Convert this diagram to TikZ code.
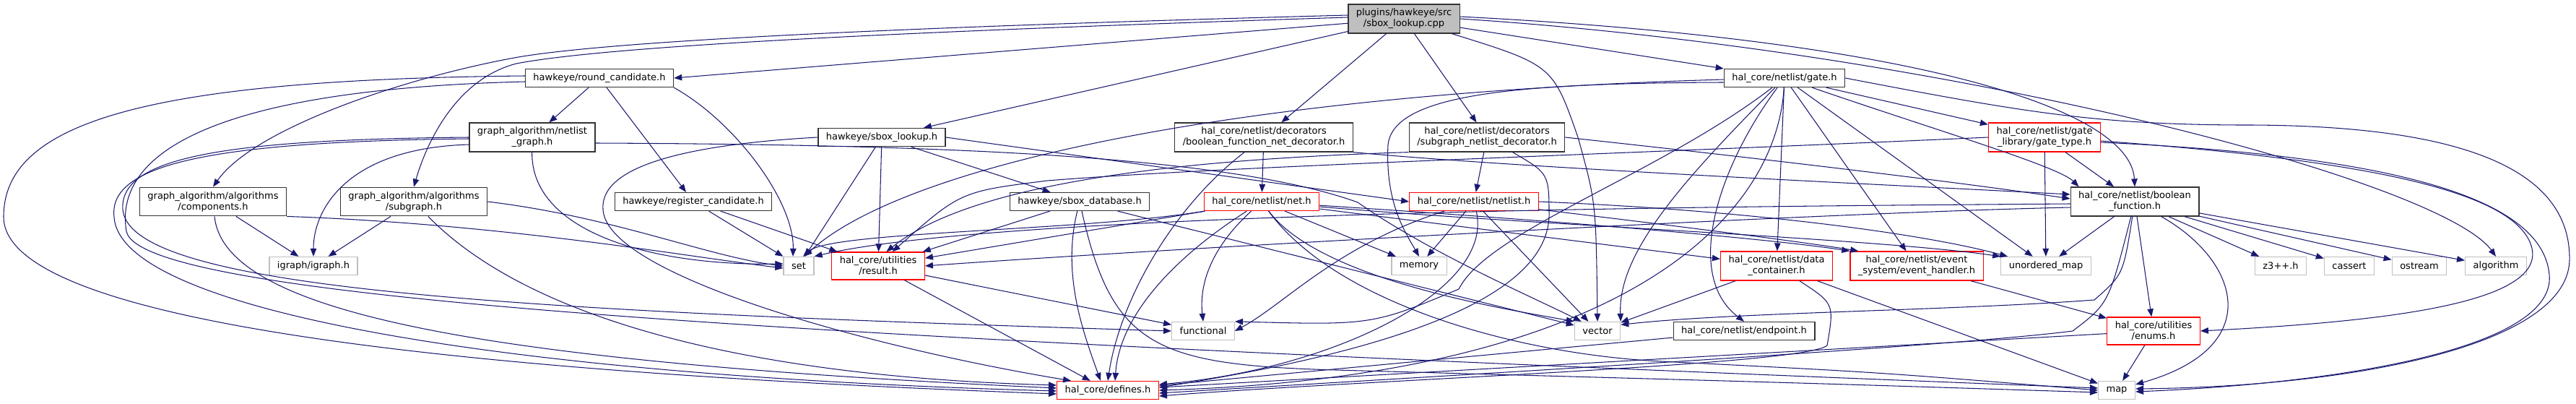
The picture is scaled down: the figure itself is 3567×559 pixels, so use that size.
\documentclass[tikz,border=0pt]{standalone}
\usepackage{fontspec}
\setmainfont{DejaVu Sans}
\usetikzlibrary{arrows.meta}

\definecolor{edgeblue}{HTML}{191970}
\definecolor{docgray}{HTML}{333333}
\definecolor{truncred}{HTML}{FF0000}
\definecolor{extgray}{HTML}{BFBFBF}

\tikzset{
  hfile/.style={draw=docgray, fill=white, line width=1.3pt, align=center,
    inner xsep=11pt, inner ysep=6pt, minimum height=25pt,
    font=\fontsize{13}{15}\selectfont},
  docfile/.style={hfile},
  truncfile/.style={hfile, draw=truncred},
  sysfile/.style={hfile, draw=extgray},
  rootfile/.style={hfile, fill=extgray},
  incl/.style={draw=edgeblue, line width=1.05pt, -{Triangle[length=11pt,width=8.5pt]}},
}

\begin{document}
\begin{tikzpicture}[x=1pt,y=1pt]
    \useasboundingbox (0,0) rectangle (3567,-559);

    % Files, rank by rank
    \node[rootfile] (src) at (1944,-26) {plugins/hawkeye/src\\/sbox\_lookup.cpp};

    \node[docfile] (rc) at (830,-108) {hawkeye/round\_candidate.h};
    \node[docfile] (gate) at (2471,-108) {hal\_core/netlist/gate.h};

    \node[docfile] (ng) at (737,-190) {graph\_algorithm/netlist\\\_graph.h};
    \node[docfile] (slh) at (1221,-190) {hawkeye/sbox\_lookup.h};
    \node[docfile] (bfnd) at (1750,-190) {hal\_core/netlist/decorators\\/boolean\_function\_net\_decorator.h};
    \node[docfile] (snd) at (2059,-190) {hal\_core/netlist/decorators\\/subgraph\_netlist\_decorator.h};
    \node[truncfile] (gt) at (2831,-190) {hal\_core/netlist/gate\\\_library/gate\_type.h};

    \node[docfile] (comp) at (295,-279) {graph\_algorithm/algorithms\\/components.h};
    \node[docfile] (subg) at (573,-279) {graph\_algorithm/algorithms\\/subgraph.h};
    \node[docfile] (regc) at (960,-279) {hawkeye/register\_candidate.h};
    \node[docfile] (sdb) at (1495,-279) {hawkeye/sbox\_database.h};
    \node[truncfile] (net) at (1747,-279) {hal\_core/netlist/net.h};
    \node[truncfile] (nl) at (2041,-279) {hal\_core/netlist/netlist.h};
    \node[docfile] (bf) at (2956,-279) {hal\_core/netlist/boolean\\\_function.h};

    \node[sysfile] (igraph) at (434,-368) {igraph/igraph.h};
    \node[sysfile] (set) at (1106,-368) {set};
    \node[truncfile] (res) at (1216,-368) {hal\_core/utilities\\/result.h};
    \node[sysfile] (mem) at (1965,-368) {memory};
    \node[truncfile] (dc) at (2460,-368) {hal\_core/netlist/data\\\_container.h};
    \node[truncfile] (eh) at (2654,-368) {hal\_core/netlist/event\\\_system/event\_handler.h};
    \node[sysfile] (um) at (2833,-368) {unordered\_map};
    \node[sysfile] (z3) at (3158,-368) {z3++.h};
    \node[sysfile] (cassert) at (3253,-368) {cassert};
    \node[sysfile] (ostream) at (3350,-368) {ostream};
    \node[sysfile] (alg) at (3456,-368) {algorithm};

    \node[sysfile] (func) at (1666,-458) {functional};
    \node[sysfile] (vec) at (2212,-458) {vector};
    \node[docfile] (ep) at (2415,-458) {hal\_core/netlist/endpoint.h};
    \node[truncfile] (enums) at (2982,-458) {hal\_core/utilities\\/enums.h};

    \node[truncfile] (def) at (1534,-540) {hal\_core/defines.h};
    \node[sysfile] (map) at (2931,-540) {map};

    % sbox_lookup.cpp
    \draw[incl] (src) -- (rc.east);
    \draw[incl] ([yshift=5pt]src.west) .. controls (1300,-36) and (850,-55) .. (712,-80) .. controls (550,-110) and (350,-180) .. (comp.north);
    \draw[incl] ([yshift=2pt]src.west) .. controls (1300,-42) and (850,-62) .. (715,-88) .. controls (630,-110) and (590,-200) .. (subg.north);
    \draw[incl] (src) -- (slh);
    \draw[incl] (src) -- (bfnd);
    \draw[incl] (src) -- (snd);
    \draw[incl] (src) -- (gate);
    \draw[incl] ([yshift=3pt]src.east) .. controls (2650,-55) and (2950,-150) .. (bf.north);
    \draw[incl] (src.east) .. controls (2700,-70) and (3380,-250) .. (alg.north);
    \draw[incl] (src) .. controls (2150,-90) .. (2185,-190) .. controls (2210,-280) .. (vec.north);

    % round_candidate.h
    \draw[incl] (rc) -- (ng);
    \draw[incl] (rc) -- (regc);
    \draw[incl] (rc.south east) .. controls (1020,-170) and (1100,-280) .. ([xshift=-8pt]set.north);
    \draw[incl] ([yshift=3pt]rc.west) .. controls (200,-110) and (5,-170) .. (5,-300) .. controls (5,-430) and (500,-510) .. ([yshift=-5pt]def.west);
    \draw[incl] ([yshift=-5pt]rc.west) .. controls (250,-125) and (160,-230) .. (175,-320) .. controls (195,-420) and (1200,-470) .. ([yshift=3pt]map.west);

    % netlist_graph.h
    \draw[incl] ([yshift=-10pt]ng.west) .. controls (480,-205) and (434,-290) .. (igraph);
    \draw[incl] (ng) .. controls (735,-320) and (900,-368) .. ([yshift=3pt]set.west);
    \draw[incl] (ng.west) .. controls (300,-193) and (165,-220) .. (170,-290) .. controls (180,-400) and (700,-430) .. (func.west);
    \draw[incl] ([yshift=-2pt]ng.west) .. controls (280,-196) and (150,-230) .. (158,-300) .. controls (165,-430) and (700,-520) .. ([yshift=-1pt]def.west);
    \draw[incl] ([yshift=-8pt]ng.east) .. controls (1300,-200) and (1700,-215) .. (1880,-280) .. controls (1980,-350) and (2120,-410) .. ([xshift=10pt]vec.north west);

    % components.h and subgraph.h
    \draw[incl] (comp) -- (igraph);
    \draw[incl] (comp.south east) .. controls (700,-310) and (950,-355) .. ([yshift=-3pt]set.west);
    \draw[incl] (comp) .. controls (310,-430) and (650,-500) .. ([yshift=3pt]def.west);
    \draw[incl] (subg) -- (igraph);
    \draw[incl] (subg.east) .. controls (850,-300) and (980,-355) .. (set.west);
    \draw[incl] (subg) .. controls (720,-430) and (1000,-520) .. ([yshift=7pt]def.west);

    % register_candidate.h
    \draw[incl] (regc) -- (set);
    \draw[incl] (regc) -- (res);

    % sbox_lookup.h
    \draw[incl] (slh) -- (set);
    \draw[incl] (slh) -- (res);
    \draw[incl] (slh) -- (sdb);
    \draw[incl] (slh.east) -- (nl.west);
    \draw[incl] (slh.west) .. controls (950,-200) and (830,-230) .. (835,-290) .. controls (840,-380) and (1200,-480) .. ([xshift=20pt]def.north west);

    % sbox_database.h
    \draw[incl] (sdb) -- (res);
    \draw[incl] (sdb) .. controls (1470,-380) and (1500,-460) .. ([xshift=-10pt]def.north);
    \draw[incl] (sdb) -- (vec);
    \draw[incl] (sdb) .. controls (1540,-480) and (1600,-505) .. (1850,-512) .. controls (2500,-530) .. ([yshift=-3pt]map.west);

    % net.h
    \draw[incl] (net) .. controls (1500,-320) and (1150,-320) .. ([xshift=6pt]set.north);
    \draw[incl] (net) -- (res);
    \draw[incl] (net) -- (mem);
    \draw[incl] (net) .. controls (1680,-340) and (1660,-390) .. (func.north);
    \draw[incl] (net) .. controls (1620,-360) and (1550,-440) .. ([xshift=10pt]def.north);
    \draw[incl] (net) .. controls (1830,-390) and (2100,-430) .. (vec.north west);
    \draw[incl] (net) .. controls (1850,-420) and (2100,-490) .. (2300,-500) .. controls (2600,-515) .. (map.west);
    \draw[incl] (net) -- (dc);
    \draw[incl] (net) .. controls (2150,-305) and (2450,-330) .. (eh.north west);
    \draw[incl] (net) .. controls (2100,-310) and (2600,-330) .. (um.north west);

    % decorators
    \draw[incl] (bfnd) -- (net);
    \draw[incl] (bfnd) .. controls (1620,-290) and (1550,-420) .. (def.north);
    \draw[incl] (bfnd.south east) .. controls (2100,-232) and (2600,-255) .. ([yshift=10pt]bf.west);
    \draw[incl] (snd) -- (nl);
    \draw[incl] (snd.east) .. controls (2400,-215) and (2700,-250) .. ([yshift=4pt]bf.west);
    \draw[incl] (snd) .. controls (2145,-240) .. (2145,-300) .. controls (2140,-420) and (1900,-490) .. ([yshift=4pt]def.east);
    \draw[incl] (snd.south west) .. controls (1650,-220) and (1350,-250) .. (res.60);

    % netlist.h
    \draw[incl] (nl) -- (mem);
    \draw[incl] (nl) .. controls (1850,-340) and (1780,-420) .. (func.east);
    \draw[incl] (nl) .. controls (2070,-400) and (1850,-510) .. ([yshift=8pt]def.east);
    \draw[incl] (nl) -- (vec);
    \draw[incl] (nl) .. controls (2300,-310) and (2500,-335) .. ([xshift=12pt]eh.north west);
    \draw[incl] (nl.east) .. controls (2400,-290) and (2650,-320) .. ([xshift=10pt]um.north west);

    % gate.h
    \draw[incl] ([yshift=-2pt]gate.west) .. controls (1700,-130) and (1250,-230) .. (set.60);
    \draw[incl] ([yshift=-6pt]gate.west) .. controls (2100,-115) and (1930,-130) .. (1922,-200) .. controls (1918,-280) and (1945,-320) .. (mem.north);
    \draw[incl] (gate) -- (gt);
    \draw[incl] (gate) .. controls (2680,-180) and (2850,-230) .. ([xshift=12pt]bf.north west);
    \draw[incl] (gate) -- (um);
    \draw[incl] (gate) -- (dc);
    \draw[incl] (gate) -- (eh);
    \draw[incl] (gate) .. controls (2380,-230) and (2330,-380) .. (ep.north);
    \draw[incl] (gate) .. controls (2330,-250) and (2240,-350) .. (vec.north east);
    \draw[incl] (gate) .. controls (2300,-240) and (2060,-320) .. (2020,-400) .. controls (1900,-450) .. (func.north east);
    \draw[incl] (gate) .. controls (2460,-300) and (2250,-520) .. (def.east);
    \draw[incl] (gate.east) .. controls (2800,-155) and (2900,-172) .. (3100,-173) .. controls (3400,-172) and (3560,-230) .. (3558,-360) .. controls (3555,-480) and (3250,-535) .. ([yshift=2pt]map.east);

    % gate_type.h
    \draw[incl] (gt) -- (bf);
    \draw[incl] (gt) -- (um);
    \draw[incl] (gt.west) .. controls (2200,-215) and (1700,-230) .. (1450,-250) .. controls (1330,-265) .. (res.45);
    \draw[incl] ([yshift=-5pt]gt.east) .. controls (3250,-220) and (3480,-260) .. (3505,-340) .. controls (3530,-420) and (3300,-445) .. (enums.east);
    \draw[incl] ([yshift=-7pt]gt.east) .. controls (3300,-215) and (3520,-270) .. (3530,-380) .. controls (3540,-480) and (3250,-530) .. ([yshift=-2pt]map.east);

    % boolean_function.h
    \draw[incl] ([yshift=-3pt]bf.west) .. controls (2500,-285) and (1400,-290) .. (set.north east);
    \draw[incl] ([yshift=-8pt]bf.west) .. controls (2500,-295) and (1600,-345) .. (res.east);
    \draw[incl] (bf) -- (um);
    \foreach \hdr in {z3,cassert,ostream,alg} {
        \draw[incl] (bf) -- (\hdr);
    }
    \draw[incl] (bf) -- (enums);
    \draw[incl] (bf) .. controls (3100,-360) and (3140,-480) .. ([yshift=8pt]map.east);
    \draw[incl] (bf) .. controls (2940,-380) .. (2900,-415) .. controls (2700,-430) and (2400,-432) .. (vec.15);
    \draw[incl] (bf) .. controls (2920,-420) .. (2870,-458) .. controls (2700,-480) and (2000,-520) .. ([yshift=-4pt]def.east);

    % data_container.h, event_handler.h, enums.h, endpoint.h, result.h
    \draw[incl] (dc) -- (vec);
    \draw[incl] (dc) .. controls (2540,-420) .. (2530,-478) .. controls (2500,-505) and (1900,-525) .. ([yshift=-8pt]def.east);
    \draw[incl] (dc) -- (map);
    \draw[incl] (eh) -- (enums);
    \draw[incl] (enums) -- (def);
    \draw[incl] (enums) -- (map);
    \draw[incl] (ep) -- (def);
    \draw[incl] (res) -- (func);
    \draw[incl] (res) -- (def);
\end{tikzpicture}
\end{document}
